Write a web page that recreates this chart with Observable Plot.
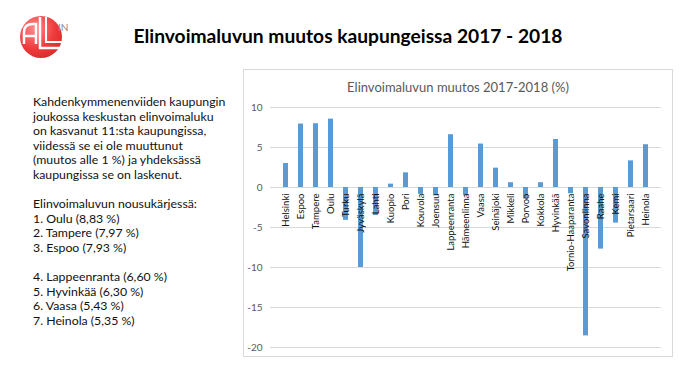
<!DOCTYPE html>
<html>
<head>
<meta charset="utf-8">
<script src="https://cdn.jsdelivr.net/npm/d3@7"></script>
<script src="https://cdn.jsdelivr.net/npm/@observablehq/plot@0.6"></script>
<style>
  html, body { margin: 0; padding: 0; background: #fff; }
  #page { position: relative; width: 696px; height: 383px; overflow: hidden; font-family: Lato, "Open Sans", sans-serif; }
  #title { position: absolute; left: 0; width: 696px; top: 24px; text-align: center; font-weight: bold; font-size: 19.2px; color: #000; }
  #text { position: absolute; left: 33px; top: 95px; font-size: 12.3px; line-height: 14.6px; color: #111; white-space: pre; }
  #box { position: absolute; left: 243px; top: 69px; width: 430px; height: 288px; border: 1px solid #d9d9d9; box-sizing: border-box; }
  #ctitle { position: absolute; left: 243px; width: 430px; top: 79px; text-align: center; font-size: 13px; color: #595959; }
  #chart { position: absolute; left: 243px; top: 69px; }
  #logo { position: absolute; left: 0; top: 0; }
</style>
</head>
<body>
<div id="page">
  <svg id="logo" width="80" height="65" viewBox="0 0 80 65">
    <defs>
      <radialGradient id="rg" cx="0.35" cy="0.3" r="0.8">
        <stop offset="0" stop-color="#ff8a8a"/>
        <stop offset="0.6" stop-color="#ee3b3b"/>
        <stop offset="1" stop-color="#d42a2a"/>
      </radialGradient>
    </defs>
    <circle cx="41" cy="37" r="21" fill="url(#rg)"/>
    <path d="M24,44 L24,32 Q24,24 33,24 L36,24 L36,44 M24,36 L36,36" fill="none" stroke="#fff" stroke-width="2.5"/>
    <path d="M40,17 L40,48 L60,48" fill="none" stroke="#fff" stroke-width="2.5"/>
    <path d="M46,17 L46,42 L62,42" fill="none" stroke="#fff" stroke-width="2"/>
    <text x="58" y="31" font-size="10" fill="#8a8a8a" font-family="Lato, sans-serif">IN</text>
  </svg>
  <div id="title">Elinvoimaluvun muutos kaupungeissa 2017 - 2018</div>
  <div id="text"></div>
  <div id="box"></div>
  <div id="ctitle">Elinvoimaluvun muutos 2017-2018 (%)</div>
  <div id="chart"></div>
</div>
<script>
const cities = ["Helsinki","Espoo","Tampere","Oulu","Turku","Jyväskylä","Lahti","Kuopio","Pori","Kouvola","Joensuu","Lappeenranta","Hämeenlinna","Vaasa","Seinäjoki","Mikkeli","Porvoo","Kokkola","Hyvinkää","Tornio-Haaparanta","Savonlinna","Raahe","Kemi","Pietarsaari","Heinola"];
const changes = [3.0, 7.93, 7.97, 8.55, -4.1, -10.0, -3.5, 0.42, 1.83, -0.86, -1.05, 6.6, -1.03, 5.43, 2.42, 0.6, -1.45, 0.6, 6.0, -0.78, -18.55, -7.7, -4.45, 3.33, 5.35];
const yTicks = [-20, -15, -10, -5, 0, 5, 10];
const textLines = [
  "Kahdenkymmenenviiden kaupungin",
  "joukossa keskustan elinvoimaluku",
  "on kasvanut 11:sta kaupungissa,",
  "viidessä se ei ole muuttunut",
  "(muutos alle 1 %) ja yhdeksässä",
  "kaupungissa se on laskenut.",
  "",
  "Elinvoimaluvun nousukärjessä:",
  "1. Oulu (8,83 %)",
  "2. Tampere (7,97 %)",
  "3. Espoo (7,93 %)",
  "",
  "4. Lappeenranta (6,60 %)",
  "5. Hyvinkää (6,30 %)",
  "6. Vaasa (5,43 %)",
  "7. Heinola (5,35 %)"
];
document.getElementById("text").textContent = textLines.join("\n");

const data = cities.map((c, i) => ({city: c, value: changes[i]}));

const chart = Plot.plot({
  width: 430,
  height: 288,
  marginLeft: 27,
  marginRight: 12,
  marginTop: 38,
  marginBottom: 10,
  style: {fontFamily: "Lato, 'Open Sans', sans-serif", background: "transparent", overflow: "visible"},
  x: {domain: cities, padding: 0.7, axis: null},
  y: {domain: [-20, 10], ticks: yTicks, tickFormat: d => String(d), label: null, tickSize: 0, tickPadding: 8},
  marks: [
    Plot.gridY(yTicks, {stroke: "#d9d9d9", strokeOpacity: 1}),
    Plot.axisY(yTicks, {tickSize: 0, tickPadding: 8, tickFormat: d => String(d), fill: "#595959", fontSize: 10, label: null}),
    Plot.barY(data, {x: "city", y: "value", fill: "#5b9bd5"}),
    Plot.text(data, {x: "city", y: () => 0, text: "city", rotate: -90, textAnchor: "end", dy: 6, fontSize: 9.5, fill: "#111", lineAnchor: "middle"})
  ]
});
document.getElementById("chart").appendChild(chart);
</script>
</body>
</html>
